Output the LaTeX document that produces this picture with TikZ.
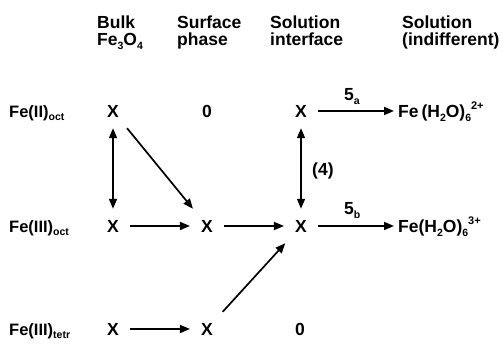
\documentclass[tikz,border=0pt]{standalone}
\usepackage{fontspec}
\setmainfont{Liberation Sans}
\usetikzlibrary{arrows.meta}
\newcommand\lsub[1]{\raisebox{-0.45ex}{\fontsize{10.5}{10}\selectfont #1}}
\newcommand\lsup[1]{\raisebox{0.85ex}{\fontsize{11}{10}\selectfont #1}}
\begin{document}
\begin{tikzpicture}[x=1pt,y=-1pt,
  lbl/.style={inner sep=0pt, font=\fontsize{17.5}{18}\selectfont\bfseries},
  rowlbl/.style={lbl, anchor=base west, font=\fontsize{16.5}{18}\selectfont\bfseries},
  hdr/.style={lbl, align=left, anchor=north west, font=\fontsize{17.5}{16.5}\selectfont\bfseries},
  cell/.style={lbl, anchor=base, inner sep=11pt},
  arr/.style={line width=1.7pt, -{Triangle[length=10pt,width=8pt]}},
  darr/.style={line width=1.7pt, {Triangle[length=10pt,width=8pt]}-{Triangle[length=10pt,width=8pt]}},
]
\useasboundingbox (0,0) rectangle (503,343);
% headers
\node[hdr] (h1) at (97,16) {Bulk\\Fe\lsub{3}O\lsub{4}};
\node[hdr] (h2) at (177,16) {Surface\\phase};
\node[hdr] (h3) at (270,16) {Solution\\interface};
\node[hdr] (h4) at (402,16) {Solution\\(indifferent)};
% row labels
\node[rowlbl] (r1) at (9,117) {Fe(II)\lsub{oct}};
\node[rowlbl] (r2) at (9,232) {Fe(III)\lsub{oct}};
\node[rowlbl] (r3) at (9,335) {Fe(III)\lsub{tetr}};
% row 1
\node[cell] (a1) at (113,117) {X};
\node[cell] (b1) at (207,117) {0};
\node[cell] (c1) at (301,117) {X};
\node[lbl, anchor=base west] (d1) at (398,117) {Fe\,(H\lsub{2}O)\lsub{6}\lsup{2+}};
% row 2
\node[cell] (a2) at (113,232) {X};
\node[cell] (b2) at (207,232) {X};
\node[cell] (c2) at (301,232) {X};
\node[lbl, anchor=base west] (d2) at (398,232) {Fe(H\lsub{2}O)\lsub{6}\lsup{3+}};
% row 3
\node[cell] (a3) at (113,335) {X};
\node[cell] (b3) at (207,335) {X};
\node[cell] (c3) at (300,335) {0};
% labels
\node[lbl, anchor=base west] (l5a) at (344,100) {5\lsub{a}};
\node[lbl, anchor=base west] (l5b) at (344,214) {5\lsub{b}};
\node[lbl, anchor=base west] (l4) at (312,175) {(4)};
% arrows
\draw[darr] (a1) -- (a2);
\draw[darr] (c1) -- (c2);
\draw[arr] (a1) -- (b2);
\draw[arr] (a2) -- (b2);
\draw[arr] (b2) -- (c2);
\draw[arr] (a3) -- (b3);
\draw[arr] (b3) -- (c2);
\draw[arr, shorten >=4pt] (c1) -- (c1 -| d1.west);
\draw[arr, shorten >=4pt] (c2) -- (c2 -| d2.west);
\end{tikzpicture}
\end{document}
